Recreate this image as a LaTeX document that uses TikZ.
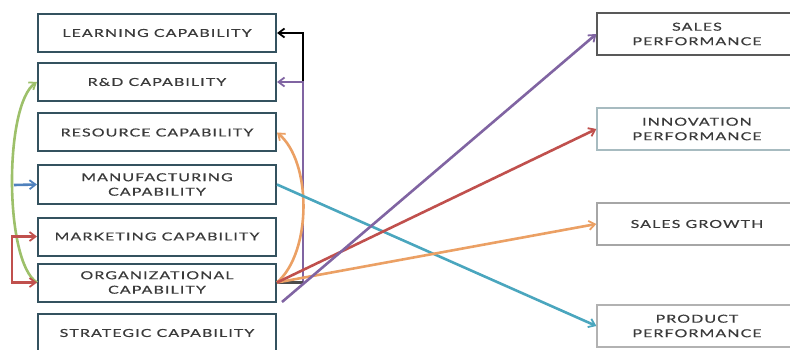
\documentclass[tikz,border=0pt]{standalone}
\usepackage{fontspec}
\newfontfamily\boxfont[FakeStretch=1.45,LetterSpace=10,FakeBold=0.6]{Lato}
\usetikzlibrary{arrows.meta}
\definecolor{cpurple}{HTML}{8064A2}
\definecolor{cred}{HTML}{C0504D}
\definecolor{corange}{HTML}{EBA064}
\definecolor{cteal}{HTML}{4AA6BE}
\definecolor{cgreen}{HTML}{9DC06A}
\definecolor{cblue}{HTML}{4F81BD}
\definecolor{cborder}{HTML}{34525F}
\definecolor{ctext}{HTML}{3A3A3A}
\tikzset{
  lbox/.style={draw=cborder, line width=2pt, minimum width=238pt, minimum height=38pt,
    inner sep=0pt, align=center, text=ctext, font=\boxfont\fontsize{11}{14.5}\selectfont},
  rbox/.style={lbox, minimum width=200pt, minimum height=42pt, line width=1.3pt},
  conn/.style={line width=2.6pt, -{Straight Barb[length=6pt,width=9pt,line width=1.8pt]}},
}
\begin{document}
\begin{tikzpicture}[x=1pt,y=-1pt]
\useasboundingbox (0,0) rectangle (790,350);
% left boxes
\node[lbox] (learn) at (157,33) {LEARNING CAPABILITY};
\node[lbox] (rd) at (157,82) {R\&D CAPABILITY};
\node[lbox] (res) at (157,132.5) {RESOURCE CAPABILITY};
\node[lbox] (man) at (157,184.5) {MANUFACTURING\\CAPABILITY};
\node[lbox] (mkt) at (157,236.5) {MARKETING CAPABILITY};
\node[lbox] (org) at (157,282.5) {ORGANIZATIONAL\\CAPABILITY};
\node[lbox] (strat) at (157,333) {STRATEGIC CAPABILITY};
% right boxes
\node[rbox, draw=black!65] (sp) at (697,34) {SALES\\PERFORMANCE};
\node[rbox, draw=cteal!35!gray!60] (inn) at (697,129) {INNOVATION\\PERFORMANCE};
\node[rbox, draw=gray!70] (sg) at (697,224) {SALES GROWTH};
\node[rbox, draw=gray!60] (pp) at (697,326) {PRODUCT\\PERFORMANCE};
% junction coordinates
\coordinate (j1) at (303,82);
\coordinate (j2) at (303,282.5);
\coordinate (ps) at (282,302);
\coordinate (bs) at (14,185);
\coordinate (rb) at (12,236.5);
% right-side connectors
\draw[conn, black, line width=2.8pt] (j1) |- (learn.east);
\draw[conn, cpurple] (j2) |- (rd.east);
\draw[line width=2.4pt, black!70] (org.east) -- (j2);
\draw[conn, corange] (org.east) .. controls (312,252) and (312,162) .. (res.east);
\draw[conn, cteal] (man.east) -- (pp.west);
\draw[conn, corange] (org.east) -- (sg.west);
\draw[conn, cred] (org.east) -- (inn.west);
\draw[conn, cpurple] (ps) -- (sp.west);
% left-side connectors
\draw[conn, cgreen] (org.west) .. controls (4,262) and (4,104) .. (rd.west);
\draw[conn, cblue] (bs) -- (man.west);
\draw[conn, cred, {Straight Barb[length=6pt,width=9pt,line width=1.8pt]}-{Straight Barb[length=6pt,width=9pt,line width=1.8pt]}] (mkt.west) -- (rb) |- (org.west);
\end{tikzpicture}
\end{document}
